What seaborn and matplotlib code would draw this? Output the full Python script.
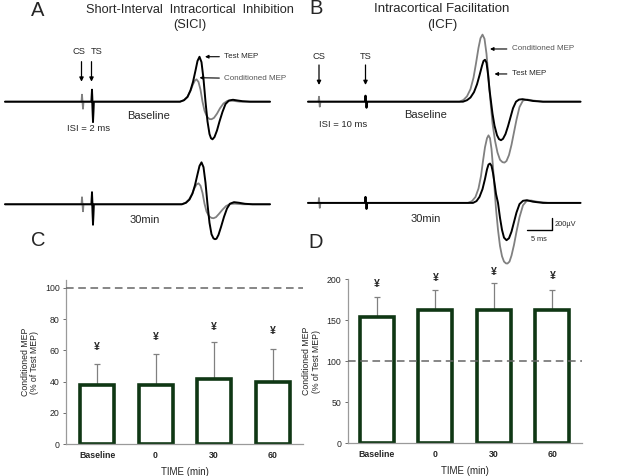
import numpy as np
import pandas as pd
import seaborn as sns
from matplotlib import pyplot as plt

sns.set_style('white')
plt.rcParams['font.family'] = ['Liberation Sans', 'DejaVu Sans']

# Bar data (% of test MEP)
times = ['Baseline', '0', '30', '60']
sici_mean = [38, 37.5, 41.5, 39.5]
sici_sd = [13.5, 20, 23.5, 21.5]
sici_star = [62, 68.5, 75, 72.5]
icf_mean = [154, 162.5, 162.5, 162.5]
icf_sd = [25, 24.5, 33.5, 24.5]
icf_star = [194, 201, 208.5, 204]

# Traces (ms, uV)
a_base_test_t = [0, 17.3, 17.4, 17.6, 17.75, 35.0, 35.8, 36.5, 37.1, 37.6, 38.1, 38.5, 38.9, 39.3, 39.7, 40.1, 40.5,
                 40.9, 41.2, 41.5, 41.9, 42.4, 42.9, 43.5, 44.1, 44.8, 45.6, 46.5, 47.5, 49.0, 53.0]
a_base_test_v = [0, 0, 200, -340, 0, 0, 25, 80, 190, 330, 520, 680, 750, 660, 380, 0, -330,
                 -540, -610, -628, -590, -480, -330, -170, -40, 20, 32, 20, 8, 0, 0]
a_base_cond_t = [0, 15.3, 15.4, 15.6, 15.7, 17.3, 17.4, 17.6, 17.75, 35.0, 35.8, 36.5, 37.1, 37.6, 38.0, 38.3, 38.7,
                 39.1, 39.5, 39.9, 40.4, 40.9, 41.3, 41.8, 42.4, 43.0, 43.7, 44.5, 45.5, 47.0, 53.0]
a_base_cond_v = [0, 0, 117, -117, 0, 0, 200, -340, 0, 0, 25, 80, 180, 290, 355, 373, 330,
                 200, 0, -150, -250, -290, -293, -270, -200, -110, -30, 15, 15, 0, 0]
a_30_test_t = [0, 17.3, 17.4, 17.6, 17.75, 35.4, 36.2, 36.9, 37.5, 38.0, 38.5, 38.9, 39.3, 39.7, 40.1, 40.5, 40.9,
               41.3, 41.7, 42.0, 42.3, 42.7, 43.2, 43.8, 44.4, 45.0, 45.8, 46.8, 48.0, 49.5, 53.0]
a_30_test_v = [0, 0, 200, -340, 0, 0, 25, 80, 180, 320, 500, 640, 700, 620, 360, 0, -310,
               -500, -570, -583, -575, -510, -380, -210, -70, 10, 35, 25, 8, 0, 0]
a_30_cond_t = [0, 15.3, 15.4, 15.6, 15.7, 17.3, 17.4, 17.6, 17.75, 35.3, 36.1, 36.8, 37.4, 37.9, 38.3, 38.7, 39.1,
               39.5, 39.9, 40.3, 40.8, 41.3, 41.7, 42.2, 42.8, 43.5, 44.2, 45.0, 46.0, 47.5, 53.0]
a_30_cond_v = [0, 0, 117, -117, 0, 0, 200, -340, 0, 0, 25, 80, 170, 270, 330, 350, 310,
               190, 10, -120, -200, -228, -233, -215, -160, -90, -30, 5, 10, 0, 0]

b_base_test_t = [0, 11.4, 11.5, 11.7, 11.85, 31.0, 31.8, 32.5, 33.2, 33.8, 34.3, 34.8, 35.1, 35.4, 35.7, 36.0, 36.3,
                 36.6, 36.9, 37.3, 37.8, 38.2, 38.6, 39.0, 39.5, 40.0, 40.5, 41.0, 41.6, 42.2, 42.9, 43.8,
                 45.0, 47.0, 54.5]
b_base_test_v = [0, 0, 100, -100, 0, 0, 25, 70, 160, 290, 440, 600, 680, 700, 650, 460, 200,
                 0, -200, -400, -560, -625, -643, -620, -540, -410, -260, -110, 0, 35, 42, 30,
                 12, 0, 0]
b_base_cond_t = [0, 2.1, 2.2, 2.35, 2.5, 11.4, 11.5, 11.7, 11.85, 30.3, 31.1, 31.8, 32.5, 33.1, 33.6, 34.1, 34.5,
                 34.9, 35.3, 35.7, 36.1, 36.5, 36.9, 37.4, 37.9, 38.4, 38.9, 39.3, 39.7, 40.2, 40.7, 41.2,
                 41.7, 42.3, 43.0, 43.9, 45.0, 47.0, 54.5]
b_base_cond_v = [0, 0, 83, -83, 0, 0, 100, -100, 0, 0, 30, 90, 210, 400, 640, 900, 1060,
                 1120, 1050, 800, 400, 0, -360, -650, -850, -970, -1010, -1017, -990, -890, -720, -510,
                 -300, -90, 20, 35, 20, 0, 0]
b_30_test_t = [0, 11.4, 11.5, 11.7, 11.85, 33.0, 33.7, 34.3, 34.9, 35.4, 35.8, 36.1, 36.4, 36.7, 37.0, 37.3, 37.6,
               38.0, 38.4, 38.8, 39.2, 39.7, 40.2, 40.7, 41.2, 41.7, 42.3, 43.0, 43.8, 45.0, 47.0, 54.5]
b_30_test_v = [0, 0, 100, -100, 0, 0, 30, 100, 230, 400, 560, 640, 657, 620, 500, 330, 150,
               0, -250, -450, -580, -623, -590, -480, -320, -160, -20, 35, 45, 20, 0, 0]
b_30_cond_t = [0, 2.1, 2.2, 2.35, 2.5, 11.4, 11.5, 11.7, 11.85, 32.0, 32.8, 33.5, 34.1, 34.6, 35.0, 35.4, 35.8,
               36.1, 36.4, 36.7, 37.0, 37.3, 37.6, 38.0, 38.4, 38.8, 39.2, 39.6, 39.9, 40.3, 40.7, 41.2,
               41.7, 42.3, 43.0, 43.7, 44.6, 45.8, 48.0, 54.5]
b_30_cond_v = [0, 0, 83, -83, 0, 0, 100, -100, 0, 0, 30, 100, 240, 450, 700, 930, 1080,
               1128, 1080, 900, 600, 250, -100, -450, -720, -890, -980, -1010, -1012, -980, -880, -700,
               -480, -240, -40, 30, 40, 20, 0, 0]

# offset of the 30 min sweep below the baseline sweep (uV)
a_offset = -1713
b_offset = -1690

W, H = 617, 476
fig = plt.figure(figsize=(W / 100, H / 100), dpi=100)

dark_green = '#0f3714'
grey_trace = '#808080'


def px(x, y, w, h):
    # figure rectangle from pixel box (top-left origin)
    return [x / W, 1 - (y + h) / H, w / W, h / H]


##################################################     TRACES     ##################################################

ax_a = fig.add_axes(px(0, 0, 305, 275))
ax_b = fig.add_axes(px(305, 0, 312, 275))
ax_a.set_xlim(-1, 60)
ax_b.set_xlim(-0.6, 61.8)
for ax in (ax_a, ax_b):
    ax.set_ylim(-2894, 1698)
    ax.axis('off')

ax_a.plot(a_base_cond_t, a_base_cond_v, color=grey_trace, lw=1.3)
ax_a.plot(a_base_test_t, a_base_test_v, color='black', lw=1.4)
ax_a.plot(a_30_cond_t, np.array(a_30_cond_v) + a_offset, color=grey_trace, lw=1.3)
ax_a.plot(a_30_test_t, np.array(a_30_test_v) + a_offset, color='black', lw=1.4)

ax_b.plot(b_base_cond_t, b_base_cond_v, color=grey_trace, lw=1.3)
ax_b.plot(b_base_test_t, b_base_test_v, color='black', lw=1.4)
ax_b.plot(b_30_cond_t, np.array(b_30_cond_v) + b_offset, color=grey_trace, lw=1.3)
ax_b.plot(b_30_test_t, np.array(b_30_test_v) + b_offset, color='black', lw=1.4)

arrow = dict(arrowstyle='-|>', color='black', lw=0.9, mutation_scale=6, shrinkA=0, shrinkB=0)

# Stimulus labels and arrows
for ax, cs_t, ts_t in ((ax_a, 15.3, 17.3), (ax_b, 2.2, 11.5)):
    top = 668 if ax is ax_a else 613
    bot = 334 if ax is ax_a else 279
    lab = 835 if ax is ax_a else 751
    ax.annotate('', xy=(cs_t, bot), xytext=(cs_t, top), arrowprops=arrow)
    ax.annotate('', xy=(ts_t, bot), xytext=(ts_t, top), arrowprops=arrow)
    ax.text(cs_t - (0.5 if ax is ax_a else 0), lab, 'CS', fontsize=6.7, ha='center', va='center')
    ax.text(ts_t + (1.0 if ax is ax_a else 0), lab, 'TS', fontsize=6.7, ha='center', va='center')

ax_a.text(16.7, -456, 'ISI = 2 ms', fontsize=6.8, ha='center', va='center')
ax_b.text(7.1, -389, 'ISI = 10 ms', fontsize=6.8, ha='center', va='center')
ax_a.text(28.7, -239, 'Baseline', fontsize=8, ha='center', va='center')
ax_b.text(23.5, -222, 'Baseline', fontsize=8, ha='center', va='center')
ax_a.text(27.9, -1976, '30min', fontsize=8, ha='center', va='center')
ax_b.text(23.5, -1959, '30min', fontsize=8, ha='center', va='center')

# MEP labels
ax_a.annotate('Test MEP', xy=(40.0, 751), xytext=(43.8, 751), fontsize=5.8, va='center',
              arrowprops=dict(arrowstyle='-|>', color='black', lw=0.8, mutation_scale=5, shrinkA=1, shrinkB=0))
ax_a.annotate('Conditioned MEP', xy=(38.9, 400), xytext=(43.8, 384), fontsize=5.8, va='center', color='#555555',
              arrowprops=dict(arrowstyle='-|>', color='black', lw=0.8, mutation_scale=5, shrinkA=1, shrinkB=0))
ax_b.annotate('Conditioned MEP', xy=(36.4, 880), xytext=(40.7, 880), fontsize=5.8, va='center', color='#555555',
              arrowprops=dict(arrowstyle='-|>', color='black', lw=0.8, mutation_scale=5, shrinkA=1, shrinkB=0))
ax_b.annotate('Test MEP', xy=(37.3, 463), xytext=(40.7, 463), fontsize=5.8, va='center',
              arrowprops=dict(arrowstyle='-|>', color='black', lw=0.8, mutation_scale=5, shrinkA=1, shrinkB=0))

# Scale bar: 200 uV / 5 ms
ax_b.plot([43.7, 48.7, 48.7], [-2143, -2143, -1943], color='black', lw=1.0)
ax_b.text(49.3, -2043, '200\u00b5V', fontsize=5.3, ha='left', va='center')
ax_b.text(46.2, -2300, '5 ms', fontsize=5.3, ha='center', va='center')

# Titles and panel letters
fig.text(190 / W, 1 - 10 / H, 'Short-Interval  Intracortical  Inhibition', fontsize=9.2, ha='center', va='center')
fig.text(190 / W, 1 - 25 / H, '(SICI)', fontsize=9.2, ha='center', va='center')
fig.text(442 / W, 1 - 9 / H, 'Intracortical Facilitation', fontsize=9.5, ha='center', va='center')
fig.text(442 / W, 1 - 25 / H, '(ICF)', fontsize=9.5, ha='center', va='center')
for letter, x, y in (('A', 38, 10), ('B', 316, 8), ('C', 38, 241), ('D', 316, 242)):
    fig.text(x / W, 1 - y / H, letter, fontsize=14.5, ha='center', va='center')


##################################################      BARS      ##################################################

ax_c = fig.add_axes(px(66, 280, 237, 164))
ax_d = fig.add_axes(px(347.7, 279.3, 234, 164))

panels = ((ax_c, sici_mean, sici_sd, sici_star, (0, 105), [0, 20, 40, 60, 80, 100], (-0.53, 3.52)),
          (ax_d, icf_mean, icf_sd, icf_star, (0, 200), [0, 50, 100, 150, 200], (-0.5, 3.5)))

for ax, mean, sd, star, ylim, yticks, xlim in panels:
    df = pd.DataFrame({'time': times, 'mep': mean})
    ax.errorbar(range(len(times)), mean, yerr=[np.zeros(len(sd)), sd], fmt='none',
                ecolor='#808080', elinewidth=0.9, capsize=2, capthick=0.9, zorder=1)
    sns.barplot(x='time', y='mep', data=df, color='white', saturation=1, edgecolor=dark_green,
                linewidth=2.6, width=0.58, errorbar=None, ax=ax, zorder=2)
    ax.axhline(100, color='#666666', lw=1.1, ls=(0, (5, 3)), zorder=3)
    for i, s in enumerate(star):
        ax.text(i, s, '\u00a5', fontsize=7.5, ha='center', va='center', fontweight='bold')
    ax.set_ylim(*ylim)
    ax.set_xlim(*xlim)
    ax.set_yticks(yticks)
    ax.set_xlabel('TIME (min)', fontsize=7, labelpad=5)
    ax.set_ylabel('Conditioned MEP\n(% of Test MEP)', fontsize=6.3, labelpad=4, linespacing=1.1)
    ax.tick_params(axis='y', length=2.5, width=0.6, color='#555555', labelsize=6.3, pad=2, left=True)
    ax.tick_params(axis='x', length=0, labelsize=6.3, pad=5)
    for lab in ax.get_xticklabels():
        lab.set_fontweight('bold')
    for side in ('top', 'right'):
        ax.spines[side].set_visible(False)
    for side in ('left', 'bottom'):
        ax.spines[side].set_color('#9a9a9a')
        ax.spines[side].set_linewidth(0.9)
    ax.set_facecolor('none')

fig.savefig('out.png', dpi=100, facecolor='white')
